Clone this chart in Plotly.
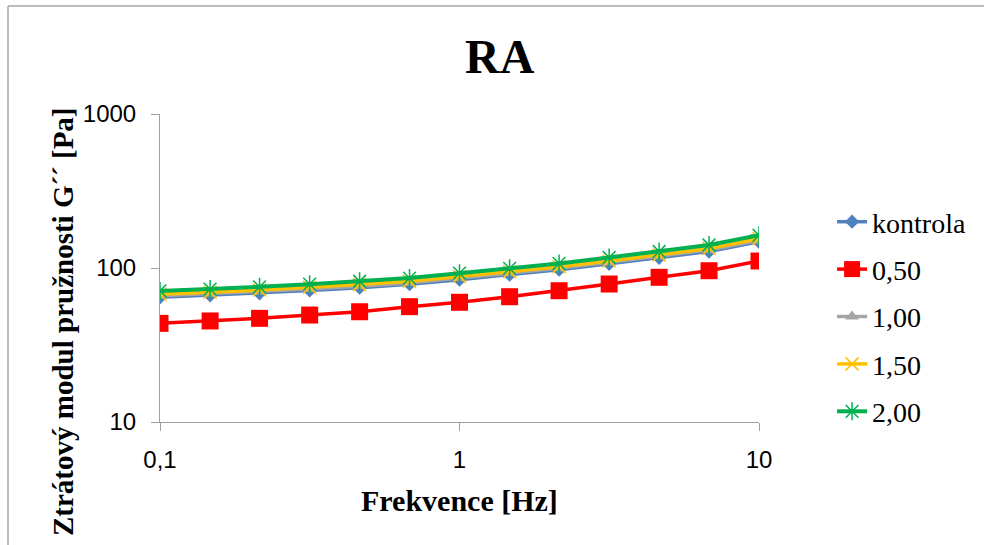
import plotly.graph_objects as go

freq = [0.1, 0.147, 0.215, 0.316, 0.464, 0.681, 1.0, 1.47, 2.15, 3.16, 4.64, 6.81, 10.0]

names = ["kontrola", "0,50", "1,00", "1,50", "2,00"]
kontrola = [64.5, 66.5, 68.5, 71.5, 74.5, 78.5, 84.0, 90.5, 97.5, 106.5, 116.5, 128.0, 148.0]
c050 = [43.7, 45.3, 47.1, 49.5, 52.0, 56.1, 59.9, 65.1, 71.2, 78.7, 87.0, 96.0, 111.0]
c100 = [66.0, 68.0, 70.0, 73.0, 76.0, 80.0, 86.0, 92.5, 99.5, 109.0, 119.0, 131.0, 151.0]
c150 = [67.5, 69.5, 72.0, 75.0, 78.0, 82.0, 88.0, 94.5, 102.0, 111.0, 121.5, 134.0, 155.0]
c200 = [71.0, 73.0, 75.5, 78.5, 82.0, 86.0, 92.5, 99.5, 107.0, 117.0, 128.0, 141.0, 163.0]

series = [kontrola, c050, c100, c150, c200]
colors = ["#4F81BD", "#FF0000", "#A5A5A5", "#FFC000", "#00B050"]
symbols = ["diamond", "square", "triangle-up", "x-thin-open", "asterisk-open"]
msizes = [11, 17, 12, 13, 15]
widths = [3.5, 3.5, 3.5, 3.5, 4]

x_ticks = [0.1, 1, 10]
x_ticktext = ["0,1", "1", "10"]
y_ticks = [10, 100, 1000]
y_ticktext = ["10", "100", "1000"]

fig = go.Figure()
for nm, ys, col, sym, ms, lw in zip(names, series, colors, symbols, msizes, widths):
    marker = dict(symbol=sym, size=ms, color=col)
    if sym.endswith("open"):
        marker["line"] = dict(color=col, width=1.5)
    fig.add_trace(go.Scatter(
        x=freq, y=ys, name=nm, mode="lines+markers",
        line=dict(color=col, width=lw), marker=marker,
        legendgroup=nm,
    ))

serif = "Times New Roman, Liberation Serif, serif"
sans = "Liberation Sans"

H = 545
fig.update_layout(
    width=984, height=H,
    margin=dict(l=160, r=225, t=114, b=H - 422),
    paper_bgcolor="white", plot_bgcolor="white",
    showlegend=True,
    legend=dict(
        x=1.122, xanchor="left", y=(422 - 316.5) / 308, yanchor="middle",
        font=dict(family=serif, size=28, color="black"),
        tracegroupgap=8, itemwidth=30,
        bgcolor="rgba(0,0,0,0)",
    ),
    xaxis=dict(
        type="log", range=[-1, 1], tickvals=x_ticks, ticktext=x_ticktext,
        showgrid=False, zeroline=False, showline=True, linecolor="#A0A0A0", linewidth=1,
        ticks="outside", ticklen=8, tickcolor="#A0A0A0",
        tickfont=dict(family=sans, size=24, color="black"), ticklabelstandoff=8,
    ),
    yaxis=dict(
        type="log", range=[1, 3], tickvals=y_ticks, ticktext=y_ticktext,
        showgrid=False, zeroline=False, showline=True, linecolor="#A0A0A0", linewidth=1,
        ticks="outside", ticklen=8, tickcolor="#A0A0A0",
        tickfont=dict(family=sans, size=24, color="black"), ticklabelstandoff=10,
    ),
    annotations=[
        dict(text="<b>RA</b>", xref="paper", yref="paper", x=(500 - 160) / 599, y=(422 - 57) / 308,
             xanchor="center", yanchor="middle", showarrow=False,
             font=dict(family=serif, size=48, color="black")),
        dict(text="<b>Frekvence [Hz]</b>", xref="paper", yref="paper", x=0.5, y=(422 - 500) / 308,
             xanchor="center", yanchor="middle", showarrow=False,
             font=dict(family=serif, size=30, color="black")),
        dict(text="<b>Ztrátový modul pružnosti G´´ [Pa]</b>", xref="paper", yref="paper",
             x=(63 - 160) / 599, y=(422 - 322) / 308, textangle=-90,
             xanchor="center", yanchor="middle", showarrow=False,
             font=dict(family=serif, size=29, color="black")),
    ],
    shapes=[
        dict(type="line", xref="paper", yref="paper",
             x0=(8 - 160) / 599, x1=(8 - 160) / 599,
             y0=-1.0, y1=(422 - 6) / 308,
             line=dict(color="#A6A6A6", width=1.5), layer="below"),
        dict(type="line", xref="paper", yref="paper",
             x0=(8 - 160) / 599, x1=2.0,
             y0=(422 - 6) / 308, y1=(422 - 6) / 308,
             line=dict(color="#A6A6A6", width=1.5), layer="below"),
    ],
)

fig.write_html("out.html")
